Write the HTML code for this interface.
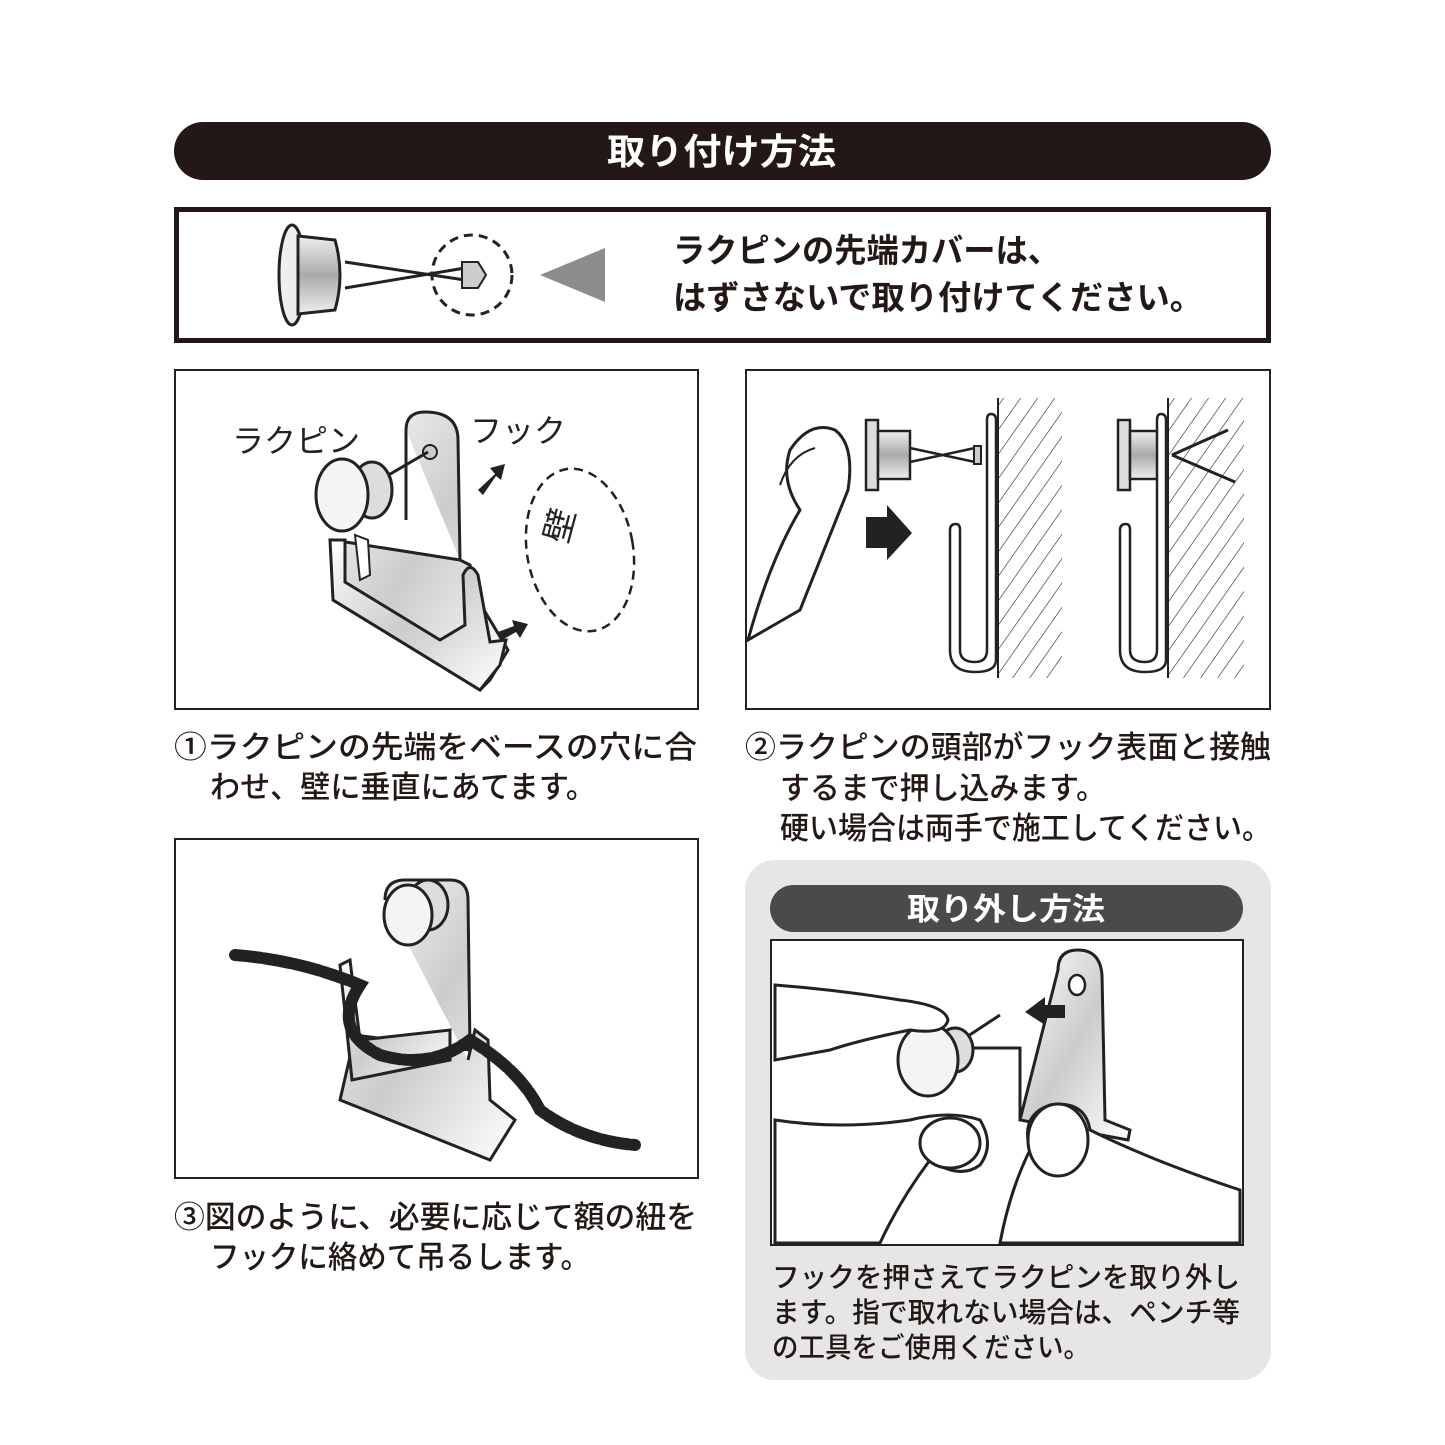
<!DOCTYPE html>
<html><head><meta charset="utf-8"><style>
html,body{margin:0;padding:0;background:#fff}
svg{display:block}
text{font-family:"Liberation Sans","Noto Sans CJK JP",sans-serif}
</style></head><body>
<svg width="1445" height="1445" viewBox="0 0 1445 1445" xmlns="http://www.w3.org/2000/svg">
<defs>
<pattern id="hatch" width="14" height="14" patternUnits="userSpaceOnUse" patternTransform="rotate(35)">
<line x1="0" y1="0" x2="0" y2="14" stroke="#222" stroke-width="1.2"/></pattern>
<linearGradient id="met" x1="0" y1="0" x2="1" y2="1"><stop offset="0" stop-color="#fff"/><stop offset=".5" stop-color="#ccc"/><stop offset="1" stop-color="#fff"/></linearGradient>
<linearGradient id="cyl" x1="0" y1="0" x2="0" y2="1"><stop offset="0" stop-color="#eee"/><stop offset=".5" stop-color="#aaa"/><stop offset="1" stop-color="#eee"/></linearGradient>
</defs>
<rect x="174" y="122" width="1097" height="58" rx="29" fill="#231815"/>
<text x="607" y="164" font-size="36" font-weight="bold" fill="#fff" textLength="229" lengthAdjust="spacingAndGlyphs">取り付け方法</text>
<rect x="176.5" y="209.5" width="1092" height="131" fill="#fff" stroke="#231815" stroke-width="5"/>
<ellipse cx="292" cy="275" rx="13" ry="50" fill="#eee" stroke="#222" stroke-width="3"/>
<path d="M298 236 L335 240 Q345 275 335 310 L298 314 Z" fill="url(#cyl)" stroke="#222" stroke-width="3"/>
<path d="M345 262 L465 280 M345 288 L465 268" stroke="#222" stroke-width="3"/>
<path d="M462 262 L478 262 L486 275 L478 288 L462 288 Z" fill="#ccc" stroke="#222" stroke-width="2"/>
<circle cx="472" cy="275" r="40" fill="none" stroke="#222" stroke-width="3" stroke-dasharray="9 6"/>
<polygon points="605,248 605,302 540,275" fill="#8c8c8c"/>
<text x="673" y="262" font-size="33" font-weight="bold" fill="#231815" textLength="387" lengthAdjust="spacingAndGlyphs">ラクピンの先端カバーは、</text>
<text x="673" y="309" font-size="33" font-weight="bold" fill="#231815" textLength="530" lengthAdjust="spacingAndGlyphs">はずさないで取り付けてください。</text>
<rect x="175" y="370" width="523" height="339" fill="#fff" stroke="#222" stroke-width="2"/>
<path d="M406 430 Q406 412 425 412 Q458 412 458 440 L460 560 L333 540 L333 600 L480 690 L490 680 L508 650 L478 600 L470 565 L460 560" fill="url(#met)" stroke="#222" stroke-width="3"/>
<path d="M406 430 L406 520" stroke="#222" stroke-width="3"/>
<path d="M330 540 L333 600 L480 690 L500 665 L506 640 L490 642 L478 575 Q470 560 463 575 L465 625 L440 640 L345 582 L345 540 Z" fill="url(#met)" stroke="#222" stroke-width="3"/>
<path d="M355 535 L360 580 L370 575 L368 540 Z" fill="#fff" stroke="#222" stroke-width="2"/>
<circle cx="430" cy="452" r="7" fill="#ccc" stroke="#222" stroke-width="2"/>
<path d="M380 480 L428 452" stroke="#222" stroke-width="3"/>
<ellipse cx="372" cy="490" rx="20" ry="28" fill="#ddd" stroke="#222" stroke-width="3"/>
<ellipse cx="342" cy="495" rx="26" ry="36" fill="#f4f4f4" stroke="#222" stroke-width="3"/>
<text x="232" y="452" font-size="32" fill="#222">ラクピン</text>
<text x="470" y="442" font-size="32" fill="#222">フック</text>
<polygon points="478,490 495,474 490,468 505,464 501,480 496,476 483,495" fill="#222"/>
<polygon points="498,632 514,626 512,620 528,624 520,638 516,632 502,640" fill="#222"/>
<ellipse cx="580" cy="550" rx="53" ry="82" fill="none" stroke="#222" stroke-width="2.5" stroke-dasharray="9 6" transform="rotate(-10 580 550)"/>
<text x="567" y="545" font-size="34" fill="#222" transform="rotate(-75 567 545)">壁</text>
<rect x="746" y="370" width="524" height="339" fill="#fff" stroke="#222" stroke-width="2"/>
<rect x="998" y="398" width="64" height="280" fill="url(#hatch)"/>
<line x1="998" y1="398" x2="998" y2="678" stroke="#222" stroke-width="2"/>
<rect x="1168" y="398" width="76" height="280" fill="url(#hatch)"/>
<line x1="1168" y1="398" x2="1168" y2="678" stroke="#222" stroke-width="2"/>
<path d="M748 640 Q770 560 800 510 Q780 480 790 450 Q810 420 835 430 Q855 445 848 490 Q820 560 800 610 Z" fill="#fff" stroke="#222" stroke-width="3"/>
<path d="M780 485 Q790 455 815 448" stroke="#222" stroke-width="2" fill="none"/>
<rect x="866" y="420" width="12" height="70" fill="#ddd" stroke="#222" stroke-width="2.5"/>
<rect x="878" y="431" width="32" height="48" fill="url(#cyl)" stroke="#222" stroke-width="2.5"/>
<path d="M910 448 L975 462 M910 462 L975 448" stroke="#222" stroke-width="2.5"/>
<rect x="974" y="446" width="7" height="18" fill="#ccc" stroke="#222" stroke-width="2"/>
<polygon points="866,517 887,517 887,505 912,533 887,560 887,548 866,548" fill="#222"/>
<path d="M996 420 L996 660 Q996 672 975 672 Q950 672 950 650 L950 530 Q950 524 956 524 Q960 524 960 530 L960 650 Q960 662 975 662 Q987 662 987 650 L987 420 Q987 414 991 414 Q996 414 996 420Z" fill="#fff" stroke="#222" stroke-width="2.5"/>
<rect x="1118" y="420" width="12" height="70" fill="#ddd" stroke="#222" stroke-width="2.5"/>
<rect x="1130" y="431" width="32" height="48" fill="url(#cyl)" stroke="#222" stroke-width="2.5"/>
<path d="M1172 455 L1228 430 M1172 455 L1235 482" stroke="#222" stroke-width="3"/>
<path d="M1166 420 L1166 660 Q1166 672 1145 672 Q1120 672 1120 650 L1120 530 Q1120 524 1126 524 Q1130 524 1130 530 L1130 650 Q1130 662 1145 662 Q1157 662 1157 650 L1157 420 Q1157 414 1161 414 Q1166 414 1166 420Z" fill="#fff" stroke="#222" stroke-width="2.5"/>
<g font-size="31" fill="#231815" font-weight="500">
<text x="174" y="758" textLength="523" lengthAdjust="spacingAndGlyphs">①ラクピンの先端をベースの穴に合</text>
<text x="210" y="798" textLength="386" lengthAdjust="spacingAndGlyphs">わせ、壁に垂直にあてます。</text>
<text x="745" y="758" textLength="526" lengthAdjust="spacingAndGlyphs">②ラクピンの頭部がフック表面と接触</text>
<text x="780" y="799" textLength="326" lengthAdjust="spacingAndGlyphs">するまで押し込みます。</text>
<text x="780" y="839" textLength="491" lengthAdjust="spacingAndGlyphs">硬い場合は両手で施工してください。</text>
<text x="174" y="1228" textLength="523" lengthAdjust="spacingAndGlyphs">③図のように、必要に応じて額の紐を</text>
<text x="210" y="1268" textLength="380" lengthAdjust="spacingAndGlyphs">フックに絡めて吊るします。</text>
</g>
<rect x="175" y="839" width="523" height="339" fill="#fff" stroke="#222" stroke-width="2"/>
<path d="M385 900 Q385 880 405 880 L450 880 Q468 880 468 900 L470 1050 L355 1035 L340 1100 L490 1160 L515 1120 L490 1100 L488 1040 L475 1030 L468 1060" fill="url(#met)" stroke="#222" stroke-width="3"/>
<path d="M340 965 L350 960 L360 1040 L450 1030 L450 1060 L352 1080 Z" fill="url(#met)" stroke="#222" stroke-width="3"/>
<ellipse cx="428" cy="905" rx="20" ry="25" fill="#ddd" stroke="#222" stroke-width="3"/>
<ellipse cx="408" cy="915" rx="24" ry="30" fill="#f4f4f4" stroke="#222" stroke-width="3"/>
<path d="M235 955 Q300 960 360 985 Q330 1030 380 1055 Q430 1070 470 1040 Q520 1070 540 1110 Q580 1140 635 1145" fill="none" stroke="#222" stroke-width="12" stroke-linecap="round" stroke-dasharray="26 4"/>
<rect x="745" y="860" width="526" height="520" rx="30" fill="#e6e6e6"/>
<rect x="770" y="885" width="473" height="47" rx="23.5" fill="#4a4a4a"/>
<text x="907" y="920" font-size="31" font-weight="bold" fill="#fff" textLength="198" lengthAdjust="spacingAndGlyphs">取り外し方法</text>
<rect x="771" y="940" width="472" height="305" fill="#fff" stroke="#222" stroke-width="2"/>
<path d="M1058 970 Q1058 950 1078 950 Q1100 950 1102 975 L1105 1120 L1130 1130 L1128 1140 L1020 1120 Z" fill="url(#met)" stroke="#222" stroke-width="3"/>
<ellipse cx="1077" cy="985" rx="8" ry="10" fill="#fff" stroke="#222" stroke-width="2.5"/>
<polygon points="1065,1005 1045,1005 1045,997 1025,1012 1045,1025 1045,1018 1065,1018" fill="#222"/>
<path d="M962 1040 L1000 1015 M965 1048 L1020 1048 L1020 1120" stroke="#222" stroke-width="3" fill="none"/>
<ellipse cx="955" cy="1050" rx="18" ry="22" fill="#ddd" stroke="#222" stroke-width="3"/>
<ellipse cx="928" cy="1060" rx="30" ry="36" fill="#f4f4f4" stroke="#222" stroke-width="3"/>
<path d="M775 985 Q840 990 900 1000 Q945 1005 948 1020 Q945 1035 910 1030 Q860 1040 830 1050 L775 1060 Z" fill="#fff" stroke="#222" stroke-width="3"/>
<path d="M775 1120 Q840 1130 910 1120 Q950 1110 980 1120 Q995 1145 980 1165 Q960 1180 930 1160 Q900 1200 880 1243 L775 1243 Z" fill="#fff" stroke="#222" stroke-width="3"/>
<ellipse cx="950" cy="1143" rx="30" ry="25" fill="#fff" stroke="#222" stroke-width="3"/>
<path d="M1000 1243 Q1010 1190 1030 1150 Q1020 1115 1050 1105 Q1085 1100 1090 1130 Q1150 1160 1240 1190 L1240 1243 Z" fill="#fff" stroke="#222" stroke-width="3"/>
<ellipse cx="1058" cy="1140" rx="30" ry="36" fill="#fff" stroke="#222" stroke-width="3"/>
<g font-size="28" fill="#231815" font-weight="500">
<text x="772" y="1287" textLength="468" lengthAdjust="spacingAndGlyphs">フックを押さえてラクピンを取り外し</text>
<text x="772" y="1322" textLength="468" lengthAdjust="spacingAndGlyphs">ます。指で取れない場合は、ペンチ等</text>
<text x="772" y="1357" textLength="318" lengthAdjust="spacingAndGlyphs">の工具をご使用ください。</text>
</g>
</svg>
</body></html>
